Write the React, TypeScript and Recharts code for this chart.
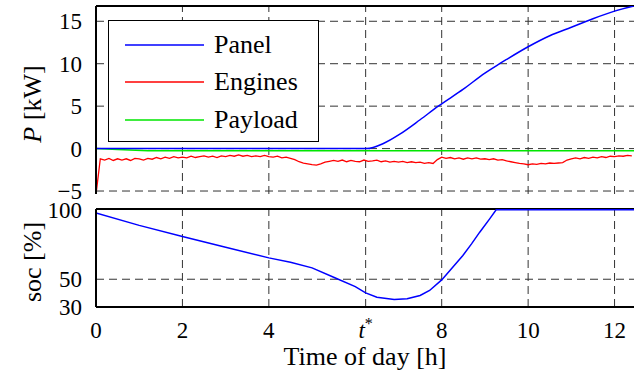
import React from "react";
import { LineChart, Line, XAxis, YAxis, Legend, ReferenceLine } from "recharts";

const FONT = '"Liberation Serif", serif';

// time axis
const timeTicks = [0, 2, 4, 6.24, 8, 10, 12];
const timeGrid = [2, 4, 6.24, 8, 10, 12];
const timeDomain = [0, 12.45];

// power panel
const powerTicks = [-5, 0, 5, 10, 15];
const powerDomain = [-5.35, 16.8];

const panelTime = [0, 6.26, 6.65, 7.03, 7.5, 7.92, 8.5, 9.0, 9.34, 9.5, 10.0, 10.5, 11.0, 11.35, 11.5, 12.0, 12.45];
const panelPower = [0, 0, 0.6, 1.7, 3.4, 5.0, 7.0, 8.9, 10.0, 10.5, 12.0, 13.3, 14.3, 15.0, 15.3, 16.2, 16.8];

const payloadTime = [0, 0.5, 1.2, 12.45];
const payloadPower = [0, -0.12, -0.25, -0.25];

const engineStep = 0.1;
const enginePower = [
  -5.4, -1.2, -1.35, -1.15, -1.4, -1.2, -1.35, -1.2, -1.4, -1.15,
  -1.2, -1.35, -1.15, -1.25, -1.05, -1.2, -1.0, -1.15, -0.95, -1.1,
  -1.0, -1.1, -0.9, -1.05, -0.95, -0.85, -1.0, -0.9, -1.05, -0.85,
  -0.95, -0.8, -0.9, -0.75, -0.9, -0.8, -0.95, -0.85, -0.95, -0.8,
  -0.95, -1.0, -0.9, -1.1, -1.0, -1.15, -1.3, -1.55, -1.7, -1.8,
  -1.9, -1.95, -1.8, -1.6, -1.5, -1.4, -1.5, -1.35, -1.55, -1.4,
  -1.5, -1.55, -1.35, -1.5, -1.45, -1.35, -1.55, -1.45, -1.6, -1.5,
  -1.6, -1.5, -1.65, -1.55, -1.65, -1.6, -1.75, -1.65, -1.75, -1.3,
  -1.0, -1.15, -1.05, -1.2, -1.1, -1.25, -1.1, -1.2, -1.1, -1.25,
  -1.2, -1.3, -1.2, -1.35, -1.3, -1.45, -1.55, -1.65, -1.75, -1.8,
  -1.9, -1.8, -1.85, -1.75, -1.8, -1.7, -1.75, -1.7, -1.65, -1.35,
  -1.2, -1.1, -1.2, -1.05, -1.15, -1.0, -1.1, -0.95, -1.05, -0.9,
  -0.95, -0.85, -0.9, -0.8, -0.85,
];

// state of charge panel
const socTicks = [30, 50, 100];
const socGrid = [50];
const socDomain = [30, 100.6];
const socTime = [0, 1, 2, 3, 4, 4.5, 5, 5.5, 6, 6.24, 6.5, 6.9, 7.2, 7.5, 7.72, 8.0, 8.19, 8.49, 8.69, 8.88, 9.11, 9.26, 12.45];
const socValue = [97.8, 88.8, 80.8, 73, 65.4, 62.3, 58.2, 51.4, 44.7, 40.2, 37, 35.4, 35.9, 38.3, 41.9, 49.5, 56.3, 67.1, 75.5, 83.9, 93.5, 100, 100];

const SERIES = [
  { name: "Panel", color: "#0000ff" },
  { name: "Engines", color: "#ff0000" },
  { name: "Payload", color: "#00e600" },
];

const panelData = panelTime.map((t, i) => ({ t, p: panelPower[i] }));
const payloadData = payloadTime.map((t, i) => ({ t, p: payloadPower[i] }));
const engineData = enginePower.map((p, i) => ({ t: +(i * engineStep).toFixed(2), p }));
const socData = socTime.map((t, i) => ({ t, s: socValue[i] }));

const TICK_STYLE = { fontFamily: FONT, fontSize: 23, fill: "#000" };
const AXIS_LINE = { stroke: "#000", strokeWidth: 2 };
const GRID = { stroke: "#333", strokeDasharray: "8 5", strokeWidth: 1 };

const minus = (v: number) => (v < 0 ? `\u2212${-v}` : `${v}`);

function TimeTick({ x, y, payload }: any) {
  const v = payload.value;
  return (
    <text x={x} y={y} dy="0.71em" textAnchor="middle" style={TICK_STYLE}>
      {v === 6.24 ? (
        <>
          <tspan fontStyle="italic">t</tspan>
          <tspan dy={-9} fontSize={16}>*</tspan>
        </>
      ) : (
        v
      )}
    </text>
  );
}

function SideLabel({ viewBox, children }: any) {
  const cx = 32;
  const cy = viewBox.y + viewBox.height / 2 + 4;
  return (
    <text
      x={cx}
      y={cy}
      transform={`rotate(-90 ${cx} ${cy})`}
      textAnchor="middle"
      dominantBaseline="central"
      style={{ fontFamily: FONT, fontSize: 26, fill: "#000" }}
    >
      {children}
    </text>
  );
}

function LegendBox() {
  return (
    <div
      style={{
        boxSizing: "border-box",
        width: 211,
        height: 122,
        border: "1.5px solid #000",
        background: "#fff",
        padding: "5px 0 0 0",
      }}
    >
      {SERIES.map((s) => (
        <div key={s.name} style={{ display: "flex", alignItems: "center", height: 37.5 }}>
          <svg width={105} height={10}>
            <line x1={16} x2={95} y1={5} y2={5} stroke={s.color} strokeWidth={1.5} />
          </svg>
          <span style={{ fontFamily: FONT, fontSize: 26, lineHeight: "26px" }}>{s.name}</span>
        </div>
      ))}
    </div>
  );
}

export default function App() {
  return (
    <div style={{ position: "absolute", left: 0, top: 0, width: 634, height: 375, background: "#fff", fontFamily: FONT }}>
      <div style={{ position: "absolute", left: 0, top: 0 }}>
        <LineChart width={634} height={210} margin={{ top: 6, right: 0, bottom: 16, left: 0 }}>
          <XAxis
            type="number"
            dataKey="t"
            domain={timeDomain}
            ticks={timeTicks}
            allowDataOverflow
            height={0}
            tick={false}
            tickLine={false}
            axisLine={AXIS_LINE}
          />
          <YAxis
            type="number"
            domain={powerDomain}
            ticks={powerTicks}
            interval={0}
            allowDataOverflow
            width={96}
            tickLine={false}
            tickSize={6}
            tickMargin={8}
            tick={TICK_STYLE}
            tickFormatter={minus}
            axisLine={AXIS_LINE}
            label={{
              content: (props: any) => (
                <SideLabel viewBox={props.viewBox}>
                  <tspan fontStyle="italic">P</tspan> [kW]
                </SideLabel>
              ),
            }}
          />
          {timeGrid.map((t) => (
            <ReferenceLine key={`x${t}`} x={t} {...GRID} />
          ))}
          {powerTicks.map((v) => (
            <ReferenceLine key={`y${v}`} y={v} {...GRID} />
          ))}
          <ReferenceLine y={powerDomain[1]} stroke="#000" strokeWidth={2} />
          <Legend
            layout="vertical"
            align="center"
            verticalAlign="middle"
            wrapperStyle={{ left: 108, top: 20, width: 211, height: 122 }}
            content={() => <LegendBox />}
          />
          <Line data={payloadData} dataKey="p" name="Payload" stroke={SERIES[2].color} strokeWidth={1.5} dot={false} isAnimationActive={false} />
          <Line data={panelData} type="monotone" dataKey="p" name="Panel" stroke={SERIES[0].color} strokeWidth={1.5} dot={false} isAnimationActive={false} />
          <Line data={engineData} dataKey="p" name="Engines" stroke={SERIES[1].color} strokeWidth={1.3} dot={false} isAnimationActive={false} />
        </LineChart>
      </div>
      <div style={{ position: "absolute", left: 0, top: 190 }}>
        <LineChart width={634} height={185} margin={{ top: 19, right: 0, bottom: 0, left: 0 }}>
          <XAxis
            type="number"
            dataKey="t"
            domain={timeDomain}
            ticks={timeTicks}
            interval={0}
            allowDataOverflow
            height={68}
            tickLine={false}
            tickSize={6}
            tickMargin={9}
            tick={<TimeTick />}
            axisLine={AXIS_LINE}
            label={{
              value: "Time of day [h]",
              position: "insideBottom",
              offset: 10,
              style: { fontFamily: FONT, fontSize: 26, fill: "#000" },
            }}
          />
          <YAxis
            type="number"
            domain={socDomain}
            ticks={socTicks}
            interval={0}
            allowDataOverflow
            width={96}
            tickLine={false}
            tickSize={6}
            tickMargin={8}
            tick={TICK_STYLE}
            axisLine={AXIS_LINE}
            label={{
              content: (props: any) => <SideLabel viewBox={props.viewBox}>soc [%]</SideLabel>,
            }}
          />
          {timeGrid.map((t) => (
            <ReferenceLine key={`x${t}`} x={t} {...GRID} />
          ))}
          {socGrid.map((v) => (
            <ReferenceLine key={`y${v}`} y={v} {...GRID} />
          ))}
          <ReferenceLine y={socDomain[1]} stroke="#000" strokeWidth={2} />
          <Line data={socData} dataKey="s" stroke="#0000ff" strokeWidth={1.5} dot={false} isAnimationActive={false} />
        </LineChart>
      </div>
    </div>
  );
}
